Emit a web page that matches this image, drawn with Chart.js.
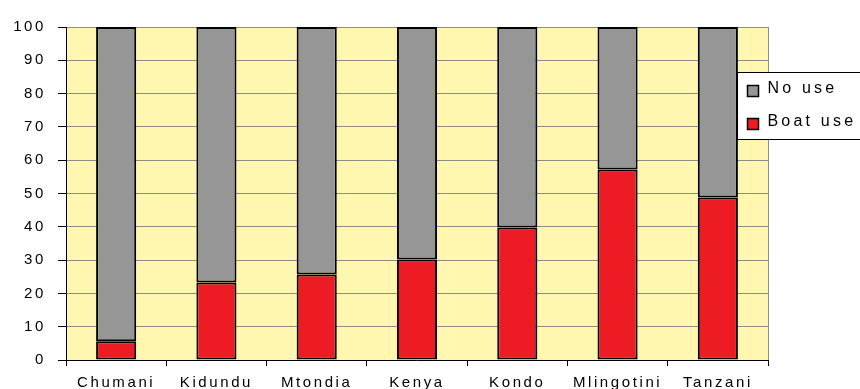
<!DOCTYPE html>
<html>
<head>
<meta charset="utf-8">
<script src="https://cdn.jsdelivr.net/npm/chart.js@4"></script>
<style>
  html, body { margin: 0; padding: 0; background: #fff; }
  #wrap { width: 860px; height: 389px; }
</style>
</head>
<body>
<div id="wrap"><canvas id="chart" width="860" height="389"></canvas></div>
<script>
const sites = ['Chumani', 'Kidundu', 'Mtondia', 'Kenya', 'Kondo', 'Mlingotini', 'Tanzani'];
const boatUse = [5.6, 23.3, 25.7, 30.2, 39.8, 57.2, 48.8];
const noUse = [94.4, 76.7, 74.3, 69.8, 60.2, 42.8, 51.2];
const yTicks = [0, 10, 20, 30, 40, 50, 60, 70, 80, 90, 100];

const FONT = '"Liberation Sans", Arial, sans-serif';

// yellow plot background + wide letter spacing like the original
const plotBg = {
    id: 'plotBg',
    beforeDraw(chart) {
        const { ctx, chartArea: a } = chart;
        ctx.letterSpacing = '2.6px';
        ctx.save();
        ctx.fillStyle = '#FFF6B0';
        ctx.fillRect(a.left, a.top, a.right - a.left, a.bottom - a.top);
        ctx.restore();
    },
    afterDraw(chart) {
        const { ctx, chartArea: a } = chart;
        ctx.save();
        ctx.strokeStyle = '#8c8c8c';
        ctx.lineWidth = 1;
        ctx.beginPath();
        ctx.moveTo(a.right + 0.5, a.top);
        ctx.lineTo(a.right + 0.5, a.bottom);
        ctx.stroke();
        ctx.restore();
    }
};

// legend box that sits over the right edge of the plot
const boxLegend = {
    id: 'boxLegend',
    afterDraw(chart) {
        const ctx = chart.ctx;
        const x = 737.5, y = 72.5, w = 130, h = 67;
        ctx.save();
        ctx.letterSpacing = '3.2px';
        ctx.fillStyle = '#fff';
        ctx.strokeStyle = '#000';
        ctx.lineWidth = 1;
        ctx.fillRect(x, y, w, h);
        ctx.strokeRect(x, y, w, h);
        const items = [chart.data.datasets[1], chart.data.datasets[0]];
        ctx.font = '16px ' + FONT;
        ctx.textBaseline = 'middle';
        items.forEach((ds, i) => {
            const cy = y + 15 + i * 33;
            ctx.fillStyle = ds.backgroundColor;
            ctx.lineWidth = 1.5;
            ctx.fillRect(x + 10, cy - 2, 11, 11);
            ctx.strokeRect(x + 10, cy - 2, 11, 11);
            ctx.fillStyle = '#000';
            ctx.fillText(ds.label, x + 30, cy + 1);
        });
        ctx.restore();
    }
};

new Chart(document.getElementById('chart'), {
    type: 'bar',
    data: {
        labels: sites,
        datasets: [
            {
                label: 'Boat use',
                data: boatUse,
                backgroundColor: '#ED1C24',
                borderColor: '#000',
                borderWidth: 2,
                borderSkipped: false
            },
            {
                label: 'No use',
                data: noUse,
                backgroundColor: '#969696',
                borderColor: '#000',
                borderWidth: 2,
                borderSkipped: false
            }
        ]
    },
    options: {
        responsive: false,
        animation: false,
        layout: { padding: { left: 0, right: 92, top: 27, bottom: 0 } },
        datasets: { bar: { categoryPercentage: 1.0, barPercentage: 0.4 } },
        plugins: { legend: { display: false }, tooltip: { enabled: false } },
        scales: {
            x: {
                stacked: true,
                afterFit(scale) { scale.height = 29; },
                grid: { offset: true, drawOnChartArea: false, tickLength: 6, color: '#000' },
                border: { color: '#000' },
                ticks: {
                    color: '#000',
                    padding: 8,
                    maxRotation: 0,
                    font: { family: FONT, size: 15 }
                }
            },
            y: {
                stacked: true,
                min: 0,
                max: 100,
                afterFit(scale) { scale.width = 66; },
                afterBuildTicks(scale) { scale.ticks = yTicks.map(v => ({ value: v })); },
                grid: { color: '#8c8c8c', tickLength: 8, tickColor: '#000' },
                border: { color: '#000' },
                ticks: {
                    color: '#000',
                    padding: 12,
                    font: { family: FONT, size: 15 }
                }
            }
        }
    },
    plugins: [plotBg, boxLegend]
});
</script>
</body>
</html>
